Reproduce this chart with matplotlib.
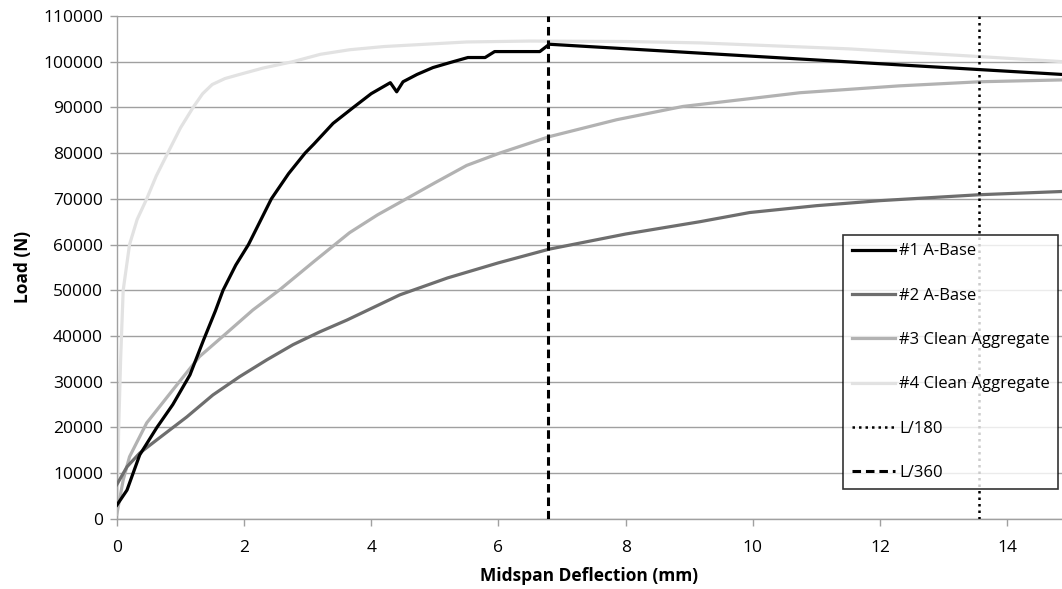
import matplotlib.pyplot as plt

# deflection (mm) / load (N)
x1 = [0, 0.16, 0.36, 0.63, 0.88, 1.15, 1.36, 1.55, 1.67, 1.87, 2.07, 2.25, 2.43, 2.7, 2.96, 3.1,
      3.4, 3.72, 4.0, 4.3, 4.4, 4.5, 4.72, 4.97, 5.24, 5.52, 5.79, 5.94, 6.65, 6.8, 14.86]
y1 = [3000, 6300, 14000, 20000, 25000, 31500, 39000, 45500, 50000, 55500, 60000, 65000, 70000,
      75500, 80000, 82000, 86500, 90000, 93000, 95400, 93400, 95600, 97200, 98700, 99800,
      100900, 100900, 102200, 102200, 103800, 97200]

x2 = [0, 0.16, 0.36, 0.63, 1.1, 1.51, 1.93, 2.36, 2.77, 3.19, 3.62, 4.45, 5.2, 6.0, 6.8, 8.0,
      9.17, 9.95, 11.0, 12.0, 13.57, 14.86]
y2 = [7500, 11400, 14400, 17300, 22300, 27100, 31100, 34800, 38100, 40900, 43500, 49000,
      52700, 56000, 59000, 62300, 65000, 67000, 68500, 69600, 70900, 71600]

x3 = [0, 0.1, 0.2, 0.47, 0.88, 1.3, 1.73, 2.14, 2.56, 3.1, 3.66, 4.1, 4.5, 5.0, 5.5, 6.02,
      6.8, 7.86, 8.9, 9.95, 10.74, 12.3, 13.57, 14.86]
y3 = [1000, 8500, 13600, 21000, 28200, 35500, 40700, 45700, 50100, 56300, 62600, 66500, 69600,
      73500, 77300, 80000, 83600, 87300, 90200, 91900, 93200, 94700, 95600, 96000]

x4 = [0, 0.03, 0.06, 0.1, 0.2, 0.32, 0.47, 0.62, 0.8, 1.0, 1.2, 1.35, 1.5, 1.7, 1.93, 2.3,
      2.77, 3.2, 3.66, 4.2, 5.5, 6.5, 8.0, 9.17, 11.5, 13.57, 14.86]
y4 = [0, 20000, 35000, 50000, 60000, 65500, 70000, 75000, 80000, 85500, 90000, 93000, 95000,
      96300, 97200, 98600, 100000, 101600, 102600, 103300, 104300, 104500, 104400, 104100,
      102800, 101100, 100000]

L180 = 13.56
L360 = 6.78

plt.rcParams["font.family"] = ["Open Sans", "DejaVu Sans"]

fig = plt.figure(figsize=(10.62, 5.89), dpi=100)
ax = fig.add_axes([0.110, 0.119, 0.890, 0.854])

ax.plot(x1, y1, color="black", lw=2.3, label="#1 A-Base", zorder=5)
ax.plot(x2, y2, color="#6e6e6e", lw=2.3, label="#2 A-Base", zorder=4)
ax.plot(x3, y3, color="#b2b2b2", lw=2.3, label="#3 Clean Aggregate", zorder=3)
ax.plot(x4, y4, color="#e2e2e2", lw=2.3, label="#4 Clean Aggregate", zorder=2)
ax.axvline(L180, color="black", lw=1.8, ls=(0, (1, 1.6)), label="L/180", zorder=6)
ax.axvline(L360, color="black", lw=2.2, ls=(0, (2.8, 1.6)), label="L/360", zorder=6)

ax.set_xlim(0, 14.86)
ax.set_ylim(0, 110000)
ax.set_xticks(range(0, 15, 2))
ax.set_yticks(range(0, 110001, 10000))
ax.grid(axis="y", color="#a0a0a0", lw=1.0)
ax.set_axisbelow(True)
for s in ["top", "right"]:
    ax.spines[s].set_visible(False)
for s in ["left", "bottom"]:
    ax.spines[s].set_color("#a0a0a0")
    ax.spines[s].set_linewidth(1.0)
ax.tick_params(axis="both", colors="#a0a0a0", labelcolor="black", labelsize=12.5,
               length=5, width=1.0)
ax.tick_params(axis="x", pad=10)
ax.tick_params(axis="y", pad=5)

ax.set_xlabel("Midspan Deflection (mm)", fontsize=12.5, fontweight="bold", labelpad=8)
ax.set_ylabel("Load (N)", fontsize=12.5, fontweight="bold", labelpad=8)

leg = ax.legend(loc="upper left", bbox_to_anchor=(0.794, 0.601), bbox_transform=fig.transFigure,
                fontsize=12, frameon=True, fancybox=False, edgecolor="black",
                handlelength=2.6, handletextpad=0.25, labelspacing=1.7, borderpad=0.5,
                borderaxespad=0)
leg.get_frame().set_linewidth(1.2)
leg.set_zorder(10)

fig.savefig("out.png", dpi=100)
